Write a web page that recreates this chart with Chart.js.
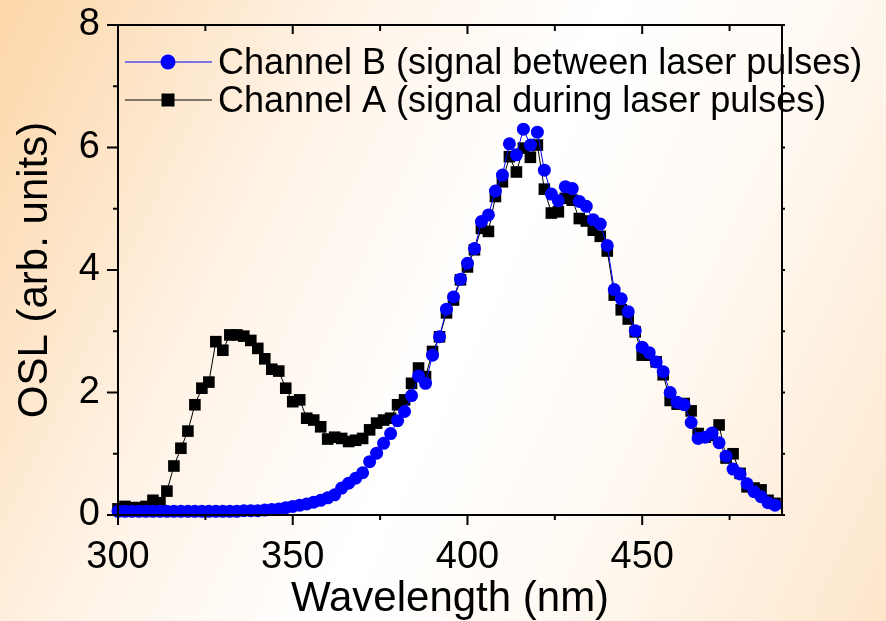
<!DOCTYPE html>
<html>
<head>
<meta charset="utf-8">
<script src="https://cdn.jsdelivr.net/npm/chart.js@4.4.0/dist/chart.umd.min.js"></script>
<style>
  html, body { margin: 0; padding: 0; }
  body {
    width: 886px; height: 621px; overflow: hidden;
    background: linear-gradient(115deg, #fcd6a8 0%, #fff3e6 30%, #ffffff 52%, #fffaf4 70%, #fde6cb 100%);
  }
  #wrap { position: relative; width: 886px; height: 621px; }
</style>
</head>
<body>
<div id="wrap"><canvas id="oslChart"></canvas></div>
<script>
// wavelength (nm), one reading every 2 nm
const wavelengths = [
  300, 302, 304, 306, 308, 310, 312, 314, 316, 318, 320, 322, 324, 326, 328, 330,
  332, 334, 336, 338, 340, 342, 344, 346, 348, 350, 352, 354, 356, 358, 360, 362,
  364, 366, 368, 370, 372, 374, 376, 378, 380, 382, 384, 386, 388, 390, 392, 394,
  396, 398, 400, 402, 404, 406, 408, 410, 412, 414, 416, 418, 420, 422, 424, 426,
  428, 430, 432, 434, 436, 438, 440, 442, 444, 446, 448, 450, 452, 454, 456, 458,
  460, 462, 464, 466, 468, 470, 472, 474, 476, 478, 480, 482, 484, 486, 488
];

// Channel B (signal between laser pulses)
const channelB = [
  0.06, 0.06, 0.06, 0.06, 0.06, 0.06, 0.06, 0.06, 0.06, 0.06, 0.06, 0.06, 0.06, 0.06, 0.06, 0.06,
  0.06, 0.06, 0.07, 0.07, 0.07, 0.08, 0.09, 0.10, 0.12, 0.14, 0.16, 0.18, 0.21, 0.24, 0.28, 0.33,
  0.44, 0.52, 0.60, 0.69, 0.87, 1.01, 1.17, 1.33, 1.54, 1.69, 1.95, 2.27, 2.15, 2.61, 2.91, 3.36,
  3.56, 3.85, 4.11, 4.35, 4.79, 4.90, 5.29, 5.55, 6.06, 5.88, 6.30, 6.04, 6.25, 5.63, 5.24, 5.13,
  5.36, 5.33, 5.12, 5.04, 4.82, 4.75, 4.40, 3.68, 3.53, 3.32, 3.01, 2.74, 2.65, 2.50, 2.34, 2.00,
  1.84, 1.80, 1.51, 1.25, 1.27, 1.34, 1.18, 0.96, 0.75, 0.67, 0.51, 0.38, 0.30, 0.20, 0.16
];

// Channel A (signal during laser pulses)
const channelA = [
  0.10, 0.14, 0.12, 0.12, 0.14, 0.24, 0.20, 0.39, 0.80, 1.09, 1.37, 1.80, 2.07, 2.17, 2.83, 2.69,
  2.94, 2.94, 2.92, 2.85, 2.72, 2.55, 2.38, 2.35, 2.07, 1.85, 1.88, 1.58, 1.55, 1.44, 1.24, 1.27,
  1.25, 1.20, 1.22, 1.25, 1.39, 1.50, 1.55, 1.58, 1.80, 1.88, 2.15, 2.40, 2.26, 2.67, 2.91, 3.30,
  3.51, 3.84, 4.05, 4.33, 4.68, 4.63, 5.20, 5.44, 5.85, 5.60, 5.99, 5.84, 6.04, 5.32, 4.93, 4.95,
  5.17, 5.14, 4.84, 4.80, 4.65, 4.55, 4.31, 3.59, 3.35, 3.20, 2.99, 2.61, 2.61, 2.50, 2.29, 1.87,
  1.81, 1.82, 1.70, 1.33, 1.27, 1.30, 1.47, 0.93, 1.00, 0.68, 0.46, 0.44, 0.41, 0.24, 0.19
];

const xTickLabels = [300, 350, 400, 450];
const yTickLabels = [0, 2, 4, 6, 8];
const xMinorTicks = [300, 325, 350, 375, 400, 425, 450, 475];
const yMinorTicks = [0, 1, 2, 3, 4, 5, 6, 7, 8];

const toPoints = arr => arr.map((v, i) => ({ x: wavelengths[i], y: v }));

// frame + tick marks (inside on top/right, outside on left/bottom)
const framePlugin = {
  id: 'frame',
  afterDraw(chart) {
    const { ctx, chartArea: a, scales: { x, y } } = chart;
    ctx.save();
    ctx.strokeStyle = '#000';
    ctx.lineWidth = 2;
    ctx.strokeRect(a.left, a.top, a.right - a.left, a.bottom - a.top);
    ctx.beginPath();
    xMinorTicks.forEach(w => {
      const px = x.getPixelForValue(w);
      const major = w % 50 === 0;
      ctx.moveTo(px, a.bottom); ctx.lineTo(px, a.bottom + (major ? 10 : 5));
      ctx.moveTo(px, a.top); ctx.lineTo(px, a.top + (major ? 9 : 6));
    });
    yMinorTicks.forEach(v => {
      const py = y.getPixelForValue(v);
      const major = v % 2 === 0;
      ctx.moveTo(a.left - (major ? 11 : 5), py); ctx.lineTo(a.left, py);
      ctx.moveTo(a.right, py); ctx.lineTo(a.right + 3, py);
    });
    ctx.stroke();
    ctx.restore();
  }
};

// legend sitting inside the plot, top left
const legendPlugin = {
  id: 'innerLegend',
  afterDraw(chart) {
    const { ctx } = chart;
    const rows = [62, 100];
    ctx.save();
    chart.data.datasets.forEach((ds, i) => {
      const yy = rows[i];
      ctx.strokeStyle = ds.borderColor;
      ctx.lineWidth = 1;
      ctx.beginPath();
      ctx.moveTo(125, yy); ctx.lineTo(212, yy);
      ctx.stroke();
      ctx.fillStyle = ds.pointBackgroundColor;
      ctx.strokeStyle = ds.pointBackgroundColor;
      Chart.helpers.drawPoint(ctx, {
        pointStyle: ds.pointStyle, radius: ds.pointRadius + 1, rotation: 0, borderWidth: 0
      }, 168, yy);
      ctx.fillStyle = '#000';
      ctx.font = '36px "Liberation Sans", Arial, sans-serif';
      ctx.textBaseline = 'middle';
      ctx.textAlign = 'left';
      ctx.fillText(ds.label, 218, yy + 2);
    });
    ctx.restore();
  }
};

const tickFont = { family: '"Liberation Sans", Arial, sans-serif', size: 38 };
const titleFont = { family: '"Liberation Sans", Arial, sans-serif', size: 42, lineHeight: 1 };

new Chart(document.getElementById('oslChart'), {
  type: 'line',
  data: {
    datasets: [
      {
        label: 'Channel B (signal between laser pulses)',
        data: toPoints(channelB),
        borderColor: '#0000ff',
        borderWidth: 1,
        pointStyle: 'circle',
        pointRadius: 6.5,
        pointBackgroundColor: '#0000ff',
        pointBorderWidth: 0,
        tension: 0,
        clip: false
      },
      {
        label: 'Channel A (signal during laser pulses)',
        data: toPoints(channelA),
        borderColor: '#000000',
        borderWidth: 1,
        pointStyle: 'rect',
        pointRadius: 8.2,
        pointBackgroundColor: '#000000',
        pointBorderWidth: 0,
        tension: 0,
        clip: false
      }
    ]
  },
  options: {
    responsive: true,
    maintainAspectRatio: false,
    animation: false,
    layout: { padding: { top: 25, right: 104, left: 0, bottom: 0 } },
    plugins: {
      legend: { display: false },
      tooltip: { enabled: false }
    },
    scales: {
      x: {
        type: 'linear',
        min: 300,
        max: 490,
        afterFit: s => { s.height = 106; s.paddingLeft = 0; s.paddingRight = 0; },
        afterBuildTicks: s => { s.ticks = xTickLabels.map(v => ({ value: v })); },
        grid: { display: false, drawTicks: false },
        border: { display: false },
        ticks: { color: '#000', font: tickFont, padding: 20, maxRotation: 0, autoSkip: false },
        title: { display: true, text: 'Wavelength (nm)', color: '#000', font: titleFont, padding: { top: 0, bottom: 1 } }
      },
      y: {
        min: 0,
        max: 8,
        afterFit: s => { s.width = 118; s.paddingTop = 0; s.paddingBottom = 0; },
        afterBuildTicks: s => { s.ticks = yTickLabels.map(v => ({ value: v })); },
        grid: { display: false, drawTicks: false },
        border: { display: false },
        ticks: { color: '#000', font: tickFont, padding: 18 },
        title: { display: true, text: 'OSL (arb. units)', color: '#000', font: titleFont, padding: { top: 14, bottom: 0 } }
      }
    }
  },
  plugins: [framePlugin, legendPlugin]
});
</script>
</body>
</html>
